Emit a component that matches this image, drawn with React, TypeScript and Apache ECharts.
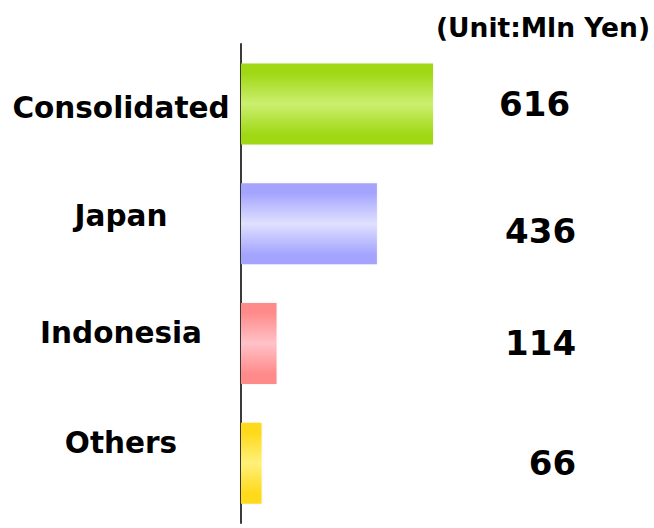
import React, { useEffect, useRef } from "react";
import * as echarts from "echarts";

const categories = ["Consolidated", "Japan", "Indonesia", "Others"];
const values = [616, 436, 114, 66];
const unitLabel = "(Unit:Mln Yen)";

// style-only constants
const edgeColors = ["#a0d814", "#a4a4ff", "#ff8a8a", "#ffd91a"];
const midColors = ["#cbef70", "#e0e0ff", "#ffc2c8", "#fff07a"];
const catLabelShift = [8, -16, -20, -40];
const valLabelOffset = [[-6, 0], [0, 7], [0, 0], [0, 0]];
const LABEL_X = 1075;

export default function App() {
  const ref = useRef<HTMLDivElement>(null);
  useEffect(() => {
    if (!ref.current) return;
    const chart = echarts.init(ref.current, undefined, { renderer: "svg" });
    const rich: Record<string, any> = {};
    catLabelShift.forEach((s, i) => {
      rich["s" + i] = {
        fontFamily: "DejaVu Sans",
        fontWeight: "bold",
        fontSize: 29.5,
        color: "#000",
        padding: s > 0 ? [s, 0, 0, 0] : [0, 0, -s, 0],
      };
    });
    chart.setOption({
      animation: false,
      title: {
        text: unitLabel,
        right: 4,
        top: 14,
        padding: 0,
        textStyle: { fontFamily: "DejaVu Sans", fontWeight: "bold", fontSize: 26.5, color: "#000" },
      },
      grid: { left: 241, top: 44, height: 479, width: 399 },
      xAxis: {
        type: "value",
        min: 0,
        max: 1280,
        show: false,
      },
      yAxis: {
        type: "category",
        inverse: true,
        data: categories,
        axisLine: { show: true, lineStyle: { color: "#3a3a3a", width: 2 } },
        axisTick: { show: false },
        axisLabel: {
          margin: 120,
          align: "center",
          formatter: (v: string, i: number) => `{s${i}|${v}}`,
          rich,
        },
      },
      series: [
        {
          type: "bar",
          barWidth: 81,
          data: values.map((v, i) => ({
            value: v,
            itemStyle: {
              color: new echarts.graphic.LinearGradient(0, 0, 0, 1, [
                { offset: 0, color: edgeColors[i] },
                { offset: 0.12, color: edgeColors[i] },
                { offset: 0.5, color: midColors[i] },
                { offset: 0.88, color: edgeColors[i] },
                { offset: 1, color: edgeColors[i] },
              ]),
              shadowColor: "rgba(0,0,0,0.08)",
              shadowBlur: 2,
            },
          })),
        },
        {
          type: "scatter",
          symbolSize: 0,
          silent: true,
          itemStyle: { opacity: 1 },
          data: values.map((v, i) => ({
            value: [LABEL_X, i, v],
            label: {
              show: true,
              position: "inside",
              align: "right",
              verticalAlign: "middle",
              offset: valLabelOffset[i],
              formatter: (p: any) => String(p.value[2]),
              fontFamily: "DejaVu Sans",
              fontWeight: "bold",
              fontSize: 34,
              color: "#000",
            },
          })),
        },
      ],
    });
    return () => chart.dispose();
  }, []);
  return (
    <div
      ref={ref}
      style={{ position: "fixed", left: 0, top: 0, width: 654, height: 528, background: "#fff" }}
    />
  );
}
